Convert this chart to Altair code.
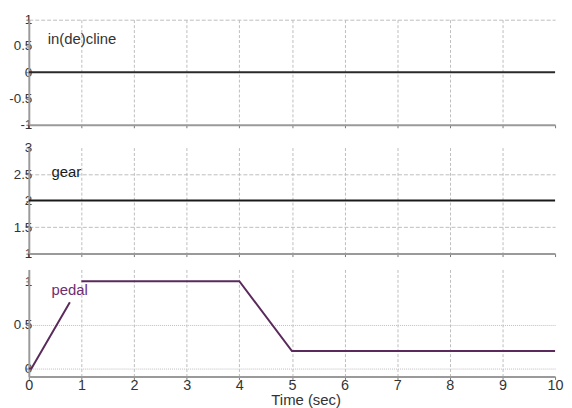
import altair as alt
import pandas as pd

# ---- data ----
incline_time = [0, 10]
incline_val = [0, 0]
gear_time = [0, 10]
gear_val = [2, 2]
pedal_time = [0, 0.05, 0.78, 1, 4, 5, 10]
pedal_val = [0, 0, 0.76, 1, 1, 0.2, 0.2]
pedal_seg = ["a", "a", "a", "b", "b", "b", "b"]

x_ticks = list(range(11))
incline_ticks = [-1, -0.5, 0, 0.5, 1]
gear_ticks = [1, 1.5, 2, 2.5, 3]
pedal_ticks = [0, 0.5, 1]

labels = ["in(de)cline", "gear", "pedal"]
label_t = [0.36, 0.43, 0.43]
label_v = [0.63, 2.54, 0.9]

W = 531
FONT = "Liberation Sans"
TXT = "#333333"

df_inc = pd.DataFrame({"t": incline_time, "v": incline_val})
df_gear = pd.DataFrame({"t": gear_time, "v": gear_val})
df_ped = pd.DataFrame({"t": pedal_time, "v": pedal_val, "seg": pedal_seg})


def grid_cond(expr):
    return {"condition": {"test": expr, "value": 1}, "value": 0}


def x_enc(bottom=False):
    ax = dict(
        values=x_ticks,
        gridDash=[3, 2],
        gridOpacity=grid_cond("datum.value > 0 && datum.value < 10"),
        labelFlush=False,
        labelOverlap=False,
        labelExpr="'' + datum.value",
    )
    if bottom:
        ax.update(
            title="Time (sec)",
            titleFontSize=15,
            titleFontWeight="normal",
            titleColor=TXT,
            titleFont=FONT,
            titlePadding=1,
            titleX=0.526 * W,
            labelPadding=-1,
            labelFontSize=14.5,
        )
    else:
        ax.update(labels=False, title=None)
    return alt.X("t:Q", scale=alt.Scale(domain=[0, 10], nice=False), axis=alt.Axis(**ax))


def y_enc(domain, ticks, grid_expr, dash):
    return alt.Y(
        "v:Q",
        scale=alt.Scale(domain=domain, nice=False, zero=False),
        axis=alt.Axis(
            values=ticks,
            title=None,
            gridDash=dash,
            gridOpacity=grid_cond(grid_expr),
            labelExpr="'' + datum.value",
            labelOverlap=False,
            labelPadding=-6,
        ),
    )


def label_layer(i, color, xe, ye):
    d = pd.DataFrame({"t": [label_t[i]], "v": [label_v[i]], "label": [labels[i]]})
    return alt.Chart(d).mark_text(
        align="left", baseline="middle", font=FONT, fontSize=15, color=color
    ).encode(x=xe, y=ye, text="label:N")


# panel 1
x1 = x_enc()
y1 = y_enc([-1, 1], incline_ticks, "datum.value == 1", [4, 2])
p1_line = alt.Chart(df_inc).mark_line(color="#2a2a2a", strokeWidth=2).encode(x=x1, y=y1)
p1 = alt.layer(p1_line, label_layer(0, TXT, x1, y1)).properties(width=W, height=106)

# panel 2
x2 = x_enc()
y2 = y_enc([1, 3], gear_ticks, "datum.value == 1.5 || datum.value == 2.5", [4, 2])
p2_line = alt.Chart(df_gear).mark_line(color="#1a1a1a", strokeWidth=2).encode(x=x2, y=y2)
p2 = alt.layer(p2_line, label_layer(1, "#1a1a1a", x2, y2)).properties(width=W, height=107)

# panel 3
x3 = x_enc(bottom=True)
y3 = y_enc([-0.091, 1.135], pedal_ticks, "datum.value == 0 || datum.value == 0.5", [1, 1])
p3_line = alt.Chart(df_ped).mark_line(color="#5a2a5c", strokeWidth=2).encode(
    x=x3, y=y3, detail="seg:N"
)
p3 = alt.layer(p3_line, label_layer(2, "#6e2e70", x3, y3)).properties(width=W, height=108)

chart = (
    alt.vconcat(p1, p2, p3, spacing=9)
    .configure(padding={"left": 0, "top": 3, "right": 0, "bottom": 0}, background="white")
    .configure_view(stroke=None)
    .configure_axis(
        domainColor="#9a9a9a",
        domainWidth=2,
        tickColor="#777777",
        tickSize=3,
        labelFont=FONT,
        labelFontSize=13.5,
        labelColor=TXT,
        gridColor="#bdbdbd",
        gridWidth=1,
    )
)

chart.save("out.html", embed_options={"renderer": "svg", "actions": False})
